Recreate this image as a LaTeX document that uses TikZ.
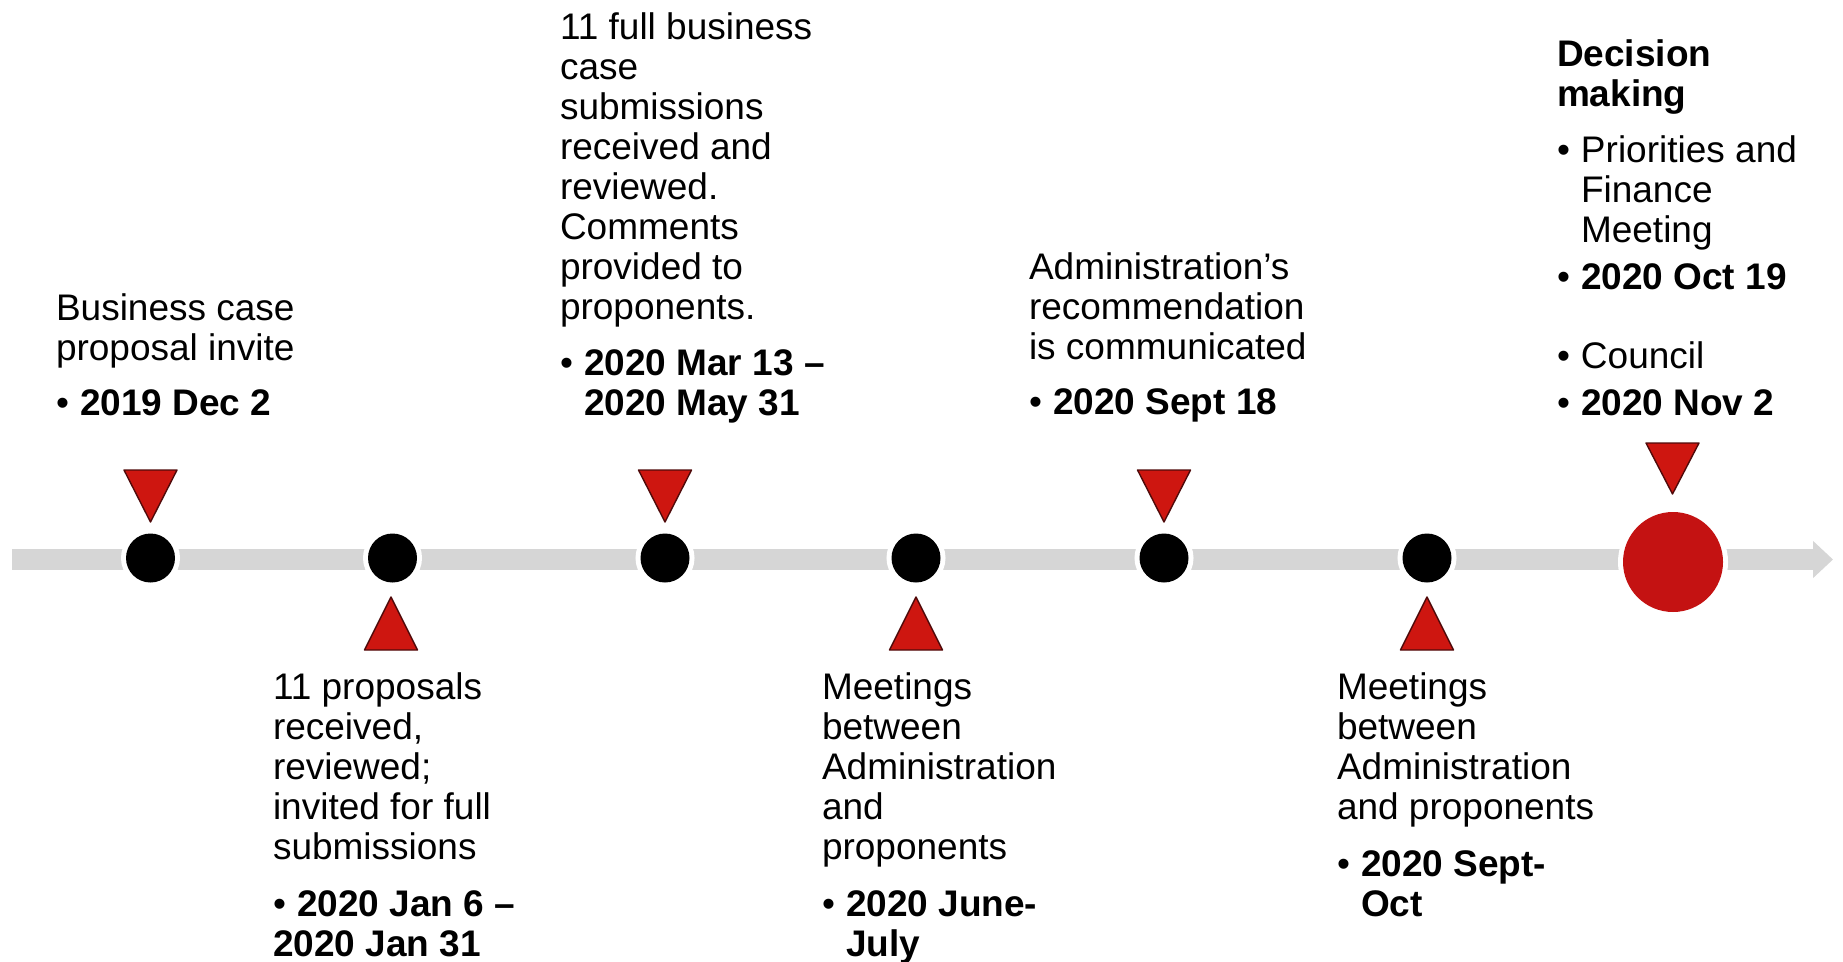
\documentclass[tikz,border=0pt]{standalone}
\usepackage{fontspec}
\setmainfont{Liberation Sans}
\usetikzlibrary{arrows.meta}
\definecolor{barcol}{RGB}{214,214,214}
\definecolor{bigred}{RGB}{196,18,18}
\definecolor{trired}{RGB}{206,22,16}
\definecolor{tristroke}{RGB}{80,10,10}
\newcommand{\tlLine}[1]{\hbox{#1}}
\newcommand{\tlBold}[1]{\hbox{\textbf{#1}}}
\newcommand{\tlBul}[1]{\hbox{\makebox[24pt][l]{•}#1}}
\newcommand{\tlBulB}[1]{\hbox{\makebox[24pt][l]{•}\textbf{#1}}}
\newcommand{\tlInd}[1]{\hbox{\hspace*{24pt}#1}}
\newcommand{\tlIndB}[1]{\hbox{\hspace*{24pt}\textbf{#1}}}
\newcommand{\tlDown}[3]{\fill[tri] (#1-26.5,#2) -- (#1+26.5,#2) -- (#1,#3) -- cycle;}
\newcommand{\tlUp}[3]{\fill[tri] (#1-26.5,#2) -- (#1+26.5,#2) -- (#1,#3) -- cycle;}
\tikzset{
  txt/.style={anchor=base west, inner sep=0pt, outer sep=0pt, font=\fontsize{37}{40}\selectfont},
  dot/.style={circle, fill=black, minimum size=49pt, inner sep=0pt, preaction={draw=white, line width=10pt}},
  bigdot/.style={circle, fill=bigred, minimum size=100pt, inner sep=0pt, preaction={draw=white, line width=10pt}},
  tri/.style={fill=trired, draw=tristroke, line width=1.4pt, line join=round},
  bar/.style={draw=barcol, line width=21pt, -{Triangle[length=20pt,width=36pt]}}
}
\begin{document}
\begin{tikzpicture}[x=1pt,y=-1pt]
\useasboundingbox (0,0) rectangle (1843,961);
\coordinate (barstart) at (12,559.5);
\coordinate (barend) at (1833,559.5);
\draw[bar] (barstart) -- (barend);

\node[dot] (d1) at (150.5,558) {};
\node[dot] (d2) at (392.5,558) {};
\node[dot] (d3) at (665,558) {};
\node[dot] (d4) at (916,558) {};
\node[dot] (d5) at (1164,558) {};
\node[dot] (d6) at (1427,558) {};
\node[bigdot] (d7) at (1673,562) {};

\tlDown{150.5}{470}{522}
\tlDown{665}{470}{522}
\tlDown{1164}{470}{522}
\tlDown{1672.5}{443}{494}
\tlUp{391}{650}{597}
\tlUp{916}{650}{597}
\tlUp{1427}{650}{597}

\node[txt] (b1) at (56,320) {\vtop{\baselineskip=40pt\lineskiplimit=-100pt
  \tlLine{Business case}\tlLine{proposal invite}\vskip15pt\tlBulB{2019 Dec 2}}};

\node[txt] (b3) at (560,39) {\vtop{\baselineskip=40pt\lineskiplimit=-100pt
  \tlLine{11 full business}\tlLine{case}\tlLine{submissions}\tlLine{received and}
  \tlLine{reviewed.}\tlLine{Comments}\tlLine{provided to}\tlLine{proponents.}
  \vskip16pt\tlBulB{2020 Mar 13 –}\tlIndB{2020 May 31}}};

\node[txt] (b5) at (1029,279) {\vtop{\baselineskip=40pt\lineskiplimit=-100pt
  \tlLine{Administration’s}\tlLine{recommendation}\tlLine{is communicated}
  \vskip15pt\tlBulB{2020 Sept 18}}};

\node[txt] (b7) at (1557,66) {\vtop{\baselineskip=40pt\lineskiplimit=-100pt
  \tlBold{Decision}\tlBold{making}\vskip16pt
  \tlBul{Priorities and}\tlInd{Finance}\tlInd{Meeting}\vskip7pt
  \tlBulB{2020 Oct 19}\vskip39pt
  \tlBul{Council}\vskip7pt
  \tlBulB{2020 Nov 2}}};

\node[txt] (b2) at (273,699) {\vtop{\baselineskip=40pt\lineskiplimit=-100pt
  \tlLine{11 proposals}\tlLine{received,}\tlLine{reviewed;}\tlLine{invited for full}\tlLine{submissions}
  \vskip17pt\tlBulB{2020 Jan 6 –}\tlBold{2020 Jan 31}}};

\node[txt] (b4) at (822,699) {\vtop{\baselineskip=40pt\lineskiplimit=-100pt
  \tlLine{Meetings}\tlLine{between}\tlLine{Administration}\tlLine{and}\tlLine{proponents}
  \vskip17pt\tlBulB{2020 June-}\tlIndB{July}}};

\node[txt] (b6) at (1337,699) {\vtop{\baselineskip=40pt\lineskiplimit=-100pt
  \tlLine{Meetings}\tlLine{between}\tlLine{Administration}\tlLine{and proponents}
  \vskip17pt\tlBulB{2020 Sept-}\tlIndB{Oct}}};
\end{tikzpicture}
\end{document}
